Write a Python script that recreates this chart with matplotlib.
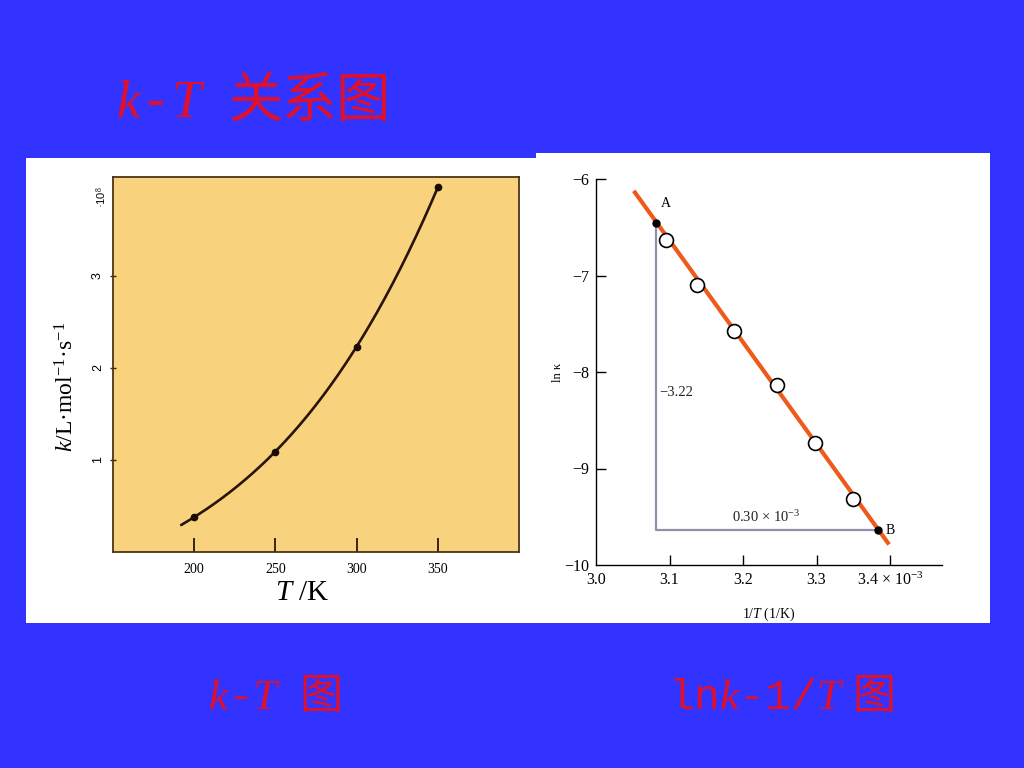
import matplotlib
matplotlib.use("Agg")
import matplotlib.pyplot as plt
from matplotlib.patches import Rectangle
import numpy as np

plt.rcParams['mathtext.fontset'] = 'custom'
plt.rcParams['mathtext.rm'] = 'Liberation Serif'
plt.rcParams['mathtext.it'] = 'Liberation Serif:italic'
plt.rcParams['mathtext.bf'] = 'Liberation Serif:bold'

# ---------------- data ----------------
# k-T plot (k in units of 10^8 L mol^-1 s^-1)
kt_T = [200, 250, 300, 350]
kt_k = [0.38, 1.09, 2.22, 3.96]
curve_T = [192, 200, 210, 219, 230, 240, 250, 262, 275, 287, 300, 312, 325, 337, 350]
curve_k = [0.30, 0.38, 0.49, 0.60, 0.76, 0.92, 1.09, 1.33, 1.60, 1.90, 2.22, 2.57, 3.00, 3.45, 3.96]
kt_xticks = [200, 250, 300, 350]
kt_yticks = [1, 2, 3]

# ln k - 1/T plot (1/T in units of 10^-3 1/K)
inv_T = [3.095, 3.138, 3.188, 3.246, 3.298, 3.350]
ln_k = [-6.63, -7.10, -7.58, -8.13, -8.74, -9.32]
fit_x = [3.053, 3.397]
fit_y = [-6.14, -9.77]
point_A = (3.081, -6.46)
point_B = (3.383, -9.64)
ar_xticks = [3.0, 3.1, 3.2, 3.3, 3.4]
ar_xticklabels = ['3.0', '3.1', '3.2', '3.3', '3.4 × 10$^{-3}$']
ar_yticks = [-10, -9, -8, -7, -6]
ar_yticklabels = ['−10', '−9', '−8', '−7', '−6']

BLUE = '#3333FF'
RED = '#E0102A'

W, H = 1024, 768
fig = plt.figure(figsize=(W / 100, H / 100), dpi=100)
fig.patch.set_facecolor(BLUE)


def fx(x):
    return x / W


def fy(y):
    return 1 - y / H


# white panels
fig.add_artist(Rectangle((fx(26), fy(623)), (537 - 26) / W, (623 - 158) / H,
                         transform=fig.transFigure, facecolor='white', edgecolor='none', zorder=0))
fig.add_artist(Rectangle((fx(536), fy(623)), (990 - 536) / W, (623 - 153) / H,
                         transform=fig.transFigure, facecolor='white', edgecolor='none', zorder=0))

# ---------------- left: k-T ----------------
ax1 = fig.add_axes([fx(113), fy(552), (519 - 113) / W, (552 - 177) / H])
ax1.set_facecolor('#F8D27C')
ax1.set_xlim(150, 400)
ax1.set_ylim(0, 4.07)
# smooth line through the points
coef = np.polyfit(curve_T, curve_k, 3)
T_dense = np.linspace(curve_T[0], curve_T[-1], 200)
ax1.plot(T_dense, np.polyval(coef, T_dense), color='#2A140A', lw=1.9,
         solid_capstyle='round')
ax1.plot(kt_T, kt_k, 'o', color='#1A0A05', ms=4.5)
for s in ax1.spines.values():
    s.set_color('#4A3418')
    s.set_linewidth(1.3)
ax1.set_xticks(kt_xticks)
ax1.set_xticklabels([str(t) for t in kt_xticks], family='Liberation Serif', fontsize=10)
ax1.set_yticks(kt_yticks)
ax1.set_yticklabels([str(t) for t in kt_yticks], family='Liberation Sans', fontsize=9,
                    rotation=90, va='center')
ax1.tick_params(axis='x', direction='in', length=10, width=1.4, color='#3A2410', pad=8)
ax1.tick_params(axis='y', direction='inout', length=5, width=1.0, color='#3A2410', pad=4)
fig.text(fx(102), fy(197), '·10$^{8}$', rotation=90, ha='center', va='center',
         fontsize=8, family='Liberation Sans')
fig.text(fx(67), fy(387), '$k$/L·mol$^{-1}$·s$^{-1}$', rotation=90, ha='center', va='center',
         fontsize=17, family='Liberation Serif')
fig.text(fx(302), fy(593), '$T$ /K', ha='center', va='center', fontsize=21,
         family='Liberation Serif')

# ---------------- right: ln k - 1/T ----------------
ax2 = fig.add_axes([fx(596), fy(565), (942 - 596) / W, (565 - 179) / H])
ax2.set_facecolor('white')
ax2.set_xlim(3.0, 3.4707)
ax2.set_ylim(-10, -6)
ax2.spines['top'].set_visible(False)
ax2.spines['right'].set_visible(False)
ax2.spines['left'].set_linewidth(1.0)
ax2.spines['bottom'].set_linewidth(1.0)
ax2.plot([point_A[0], point_A[0], point_B[0]], [point_A[1], point_B[1], point_B[1]],
         color='#988CA8', lw=1.6, zorder=1, clip_on=False)
ax2.plot(fit_x, fit_y, color='#EE5A1A', lw=3.0, zorder=2, clip_on=False)
ax2.plot(inv_T, ln_k, 'o', ms=10, markerfacecolor='white', markeredgecolor='black',
         markeredgewidth=1.2, zorder=3, clip_on=False)
ax2.plot([point_A[0], point_B[0]], [point_A[1], point_B[1]], 'o', color='black', ms=5,
         zorder=4, clip_on=False)
ax2.set_xticks(ar_xticks)
ax2.set_xticklabels(ar_xticklabels, family='Liberation Serif', fontsize=11.5)
ax2.set_yticks(ar_yticks)
ax2.set_yticklabels(ar_yticklabels, family='Liberation Serif', fontsize=11.5)
ax2.tick_params(axis='both', direction='in', length=7, width=1.0, pad=5)
ax2.xaxis.get_major_ticks()[0].tick1line.set_visible(False)
ax2.yaxis.get_major_ticks()[0].tick1line.set_visible(False)
ax2.set_xlabel('1/$T$ (1/K)', family='Liberation Serif', fontsize=10, labelpad=12)
fig.text(fx(558), fy(372), 'ln κ', rotation=90, ha='center', va='center', fontsize=9,
         family='Liberation Serif')
ax2.annotate('A', point_A, xytext=(4, 10), textcoords='offset points', fontsize=10,
             family='Liberation Serif', ha='left', va='bottom')
ax2.annotate('B', point_B, xytext=(6, 0), textcoords='offset points', fontsize=10,
             family='Liberation Serif', ha='left', va='center')
fig.text(fx(659), fy(393), '−3.22', ha='left', va='center', fontsize=10.5,
         family='Liberation Serif', color='#222222')
fig.text(fx(766), fy(517), '0.30 × 10$^{-3}$', ha='center', va='center', fontsize=10.5,
         family='Liberation Serif', color='#222222')

# ---------------- slide titles ----------------
CJK = ['Noto Sans CJK SC', 'DejaVu Sans']
fig.text(fx(116), fy(103), '$k$-$T$', ha='left', va='center', fontsize=38,
         family='Liberation Mono', color=RED)
fig.text(fx(228), fy(101), '关系图', ha='left', va='center', fontsize=39,
         family=CJK, color=RED)

fig.text(fx(208), fy(698), '$k$-$T$', ha='left', va='center', fontsize=31,
         family='Liberation Mono', color=RED)
fig.text(fx(299), fy(697), '图', ha='left', va='center', fontsize=31,
         family=CJK, color=RED)
fig.text(fx(668), fy(698), 'ln$k$-1/$T$', ha='left', va='center', fontsize=31,
         family='Liberation Mono', color=RED)
fig.text(fx(852), fy(697), '图', ha='left', va='center', fontsize=31,
         family=CJK, color=RED)

fig.savefig('out.png', dpi=100, facecolor=BLUE)
